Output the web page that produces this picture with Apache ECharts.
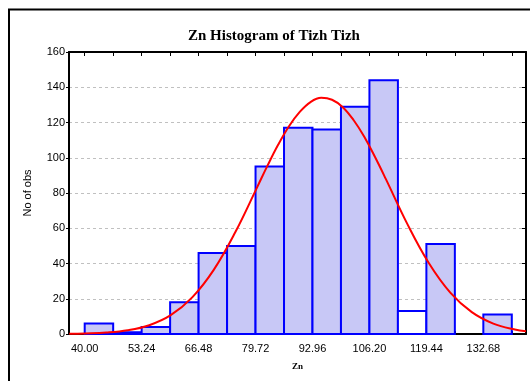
<!DOCTYPE html>
<html>
<head>
<meta charset="utf-8">
<script src="https://cdn.jsdelivr.net/npm/echarts@6/dist/echarts.min.js"></script>
<style>html,body{margin:0;padding:0;background:#fff}#c{width:530px;height:381px}</style>
</head>
<body>
<div id="c"></div>
<script>
// ---- data ----
const binStarts = [40.00, 46.62, 53.24, 59.86, 66.48, 73.10, 79.72, 86.34, 92.96, 99.58, 106.20, 112.82, 119.44, 126.06, 132.68];
const binWidth = 6.62;
const counts = [6, 1, 4, 18, 46, 50, 95, 117, 116, 129, 144, 13, 51, 0, 11];
const hollowBins = [11];
const xTickLabels = [40.00, 53.24, 66.48, 79.72, 92.96, 106.20, 119.44, 132.68];
const curveX = [36.4, 40, 45, 50, 55, 60, 65, 70, 75, 80, 82.5, 85, 87.5, 90, 92.5, 95, 97.5, 100, 102.5, 105, 107.5, 110, 115, 120, 125, 130, 135, 140, 142.6];
const curveY = [0.1, 0.3, 0.8, 2.1, 5.0, 10.7, 20.8, 36.4, 57.7, 82.8, 95.5, 107.5, 117.9, 126, 131.6, 134, 132.9, 128.7, 121.4, 111.9, 100.4, 88, 62.5, 40.3, 23.5, 12.4, 5.9, 2.5, 1.6];
const xMin = 36.35, xMax = 142.6;

const binEdges = binStarts.concat([binStarts[binStarts.length - 1] + binWidth]);
const barData = [];
binStarts.forEach((s, i) => { if (counts[i] > 0) barData.push([s, s + binWidth, counts[i], i]); });
const curveData = curveX.map((x, i) => [x, curveY[i]]);

const chart = echarts.init(document.getElementById('c'), null, {renderer: 'canvas'});
const sans = 'Liberation Sans, Arial, sans-serif';
const serif = 'Liberation Serif, Times New Roman, serif';
chart.setOption({
  animation: false,
  backgroundColor: '#ffffff',
  title: {
    text: 'Zn Histogram of Tizh Tizh',
    left: 183, top: 24,
    textStyle: {fontFamily: serif, fontWeight: 'bold', fontSize: 15, color: '#000'}
  },
  graphic: [{
    type: 'rect', z: 100,
    shape: {x: 9, y: 9.5, width: 600, height: 500},
    style: {fill: 'none', stroke: '#000', lineWidth: 2}
  }],
  grid: {left: 69, right: 4, top: 52, bottom: 47},
  xAxis: [{
    type: 'value', min: xMin, max: xMax, position: 'bottom',
    name: 'Zn', nameLocation: 'middle', nameGap: 28,
    nameTextStyle: {fontFamily: serif, fontWeight: 'bold', fontSize: 9, color: '#000'},
    axisLine: {show: true, lineStyle: {color: '#000', width: 2}},
    axisTick: {show: true, inside: true, length: 3, customValues: binEdges, lineStyle: {color: '#000', width: 1}},
    axisLabel: {customValues: xTickLabels, margin: 9, fontFamily: sans, fontSize: 11, color: '#000',
      formatter: v => v.toFixed(2)},
    splitLine: {show: false}
  }, {
    type: 'value', min: xMin, max: xMax, position: 'top',
    axisLine: {show: true, onZero: false, lineStyle: {color: '#000', width: 2}},
    axisTick: {show: true, inside: true, length: 4, customValues: binEdges, lineStyle: {color: '#000', width: 1}},
    axisLabel: {show: false},
    splitLine: {show: false}
  }],
  yAxis: [{
    type: 'value', min: 0, max: 160, interval: 20, position: 'left',
    name: 'No of obs', nameLocation: 'middle', nameGap: 36,
    nameTextStyle: {fontFamily: sans, fontSize: 11, color: '#000'},
    axisLine: {show: true, lineStyle: {color: '#000', width: 2}},
    axisTick: {show: true, inside: false, length: 3, lineStyle: {color: '#000', width: 1}},
    axisLabel: {margin: 4, fontFamily: sans, fontSize: 11, color: '#000'},
    splitLine: {show: true, lineStyle: {color: '#c0c0c0', type: [3, 3], width: 1}}
  }, {
    type: 'value', min: 0, max: 160, interval: 20, position: 'right',
    axisLine: {show: true, onZero: false, lineStyle: {color: '#000', width: 2}},
    axisTick: {show: true, inside: true, length: 4, lineStyle: {color: '#000', width: 1}},
    axisLabel: {show: false},
    splitLine: {show: false}
  }],
  series: [{
    type: 'custom',
    xAxisIndex: 0, yAxisIndex: 0,
    data: barData,
    encode: {x: [0, 1], y: 2},
    renderItem: function (params, api) {
      const p0 = api.coord([api.value(0), 0]);
      const p1 = api.coord([api.value(1), api.value(2)]);
      const hollow = hollowBins.indexOf(api.value(3)) >= 0;
      return {
        type: 'rect',
        shape: {x: p0[0], y: p1[1], width: p1[0] - p0[0], height: p0[1] - p1[1]},
        style: {fill: hollow ? '#ffffff' : '#c8c8f6', stroke: '#0000ff', lineWidth: 2}
      };
    },
    z: 2
  }, {
    type: 'line',
    xAxisIndex: 0, yAxisIndex: 0,
    data: curveData,
    smooth: 0.4,
    showSymbol: false,
    lineStyle: {color: '#ff0000', width: 2},
    z: 3
  }]
});
</script>
</body>
</html>
